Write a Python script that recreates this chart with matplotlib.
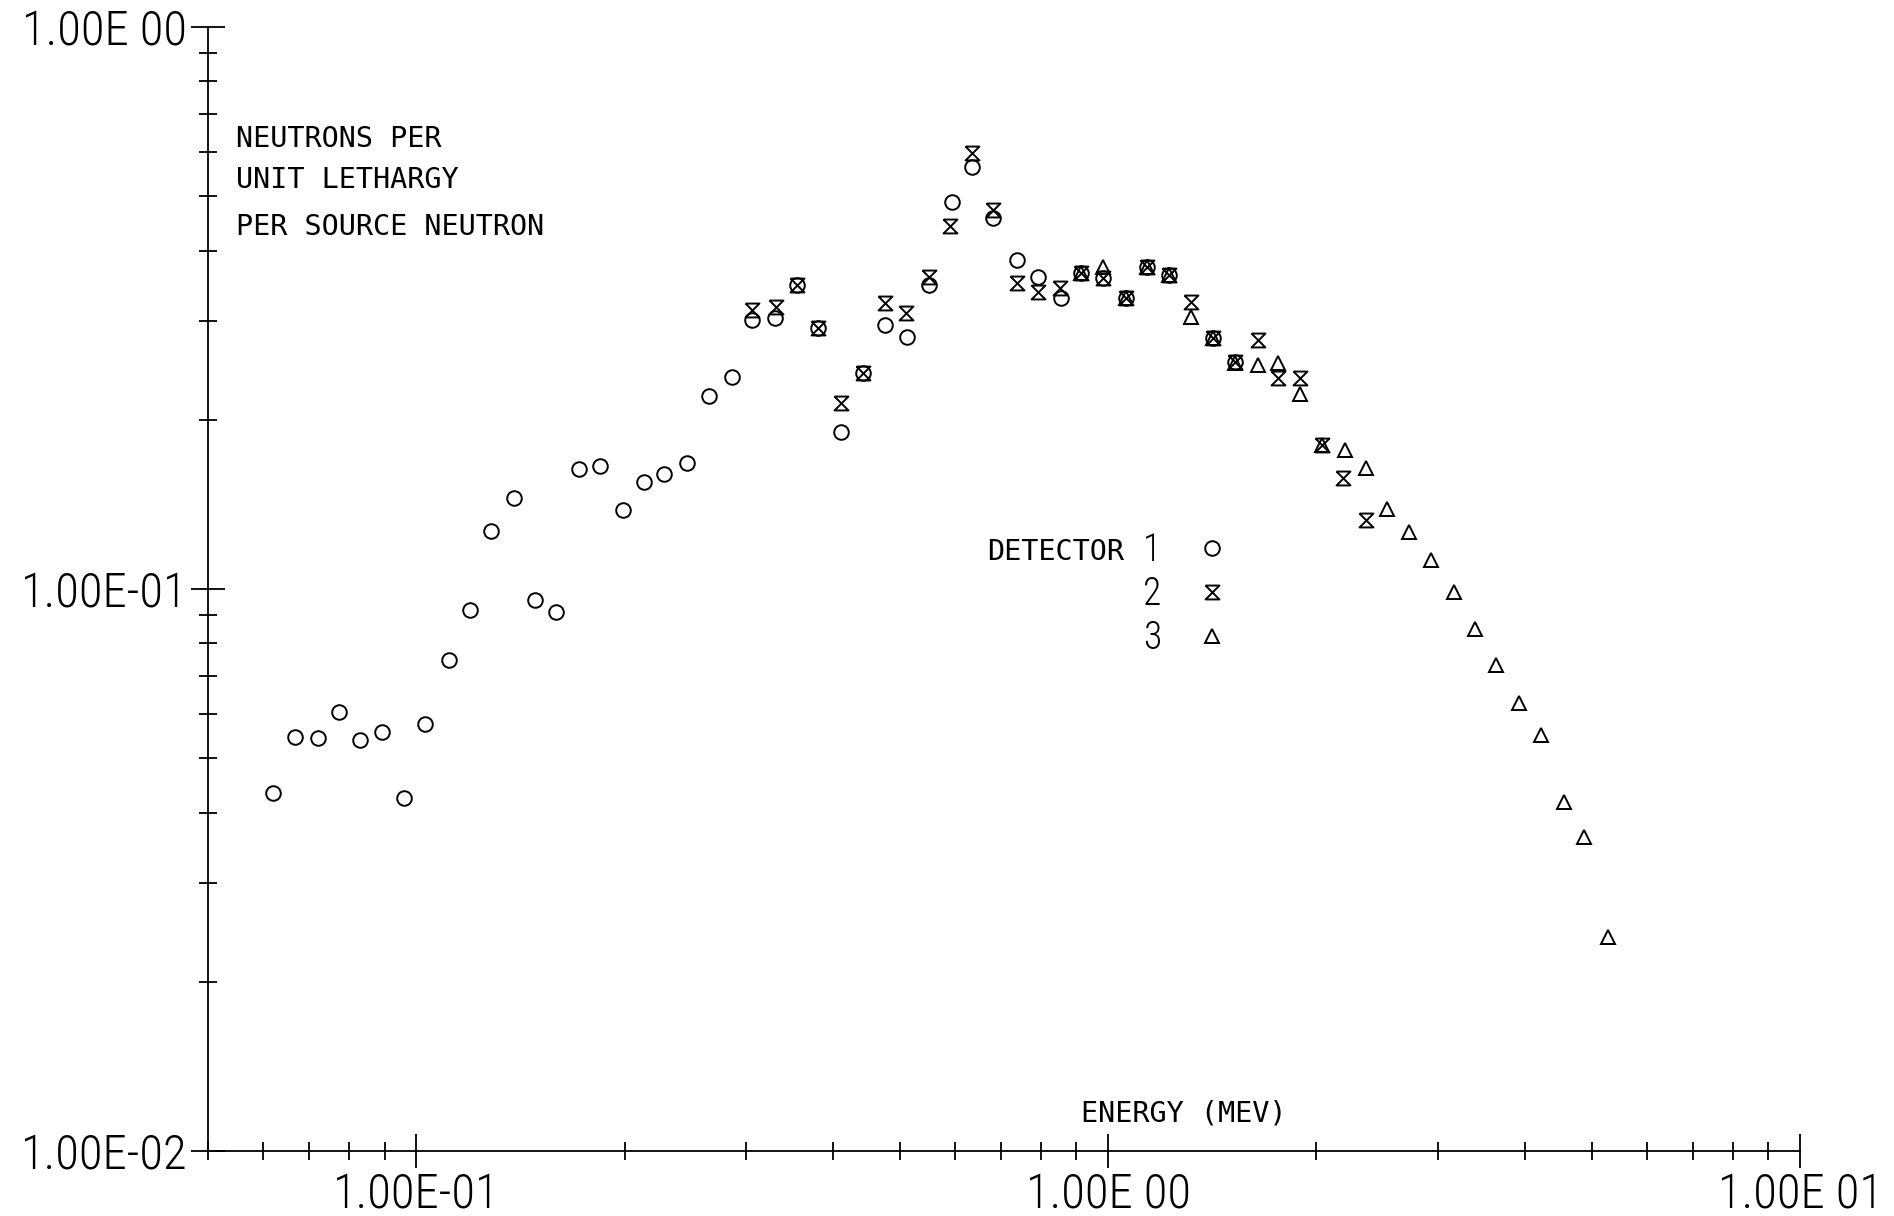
import numpy as np
import matplotlib
matplotlib.use('Agg')
import matplotlib.pyplot as plt
from matplotlib import font_manager
from matplotlib.path import Path
from matplotlib.ticker import LogLocator, NullFormatter, FixedLocator, FixedFormatter

# detector 1 (circles)
e1 = [0.0621, 0.0668, 0.0721, 0.0773, 0.0830, 0.0891, 0.0959, 0.1030, 0.1114, 0.1196,
      0.1281, 0.1384, 0.1486, 0.1593, 0.1718, 0.1842, 0.1989, 0.2135, 0.2282, 0.2459,
      0.2651, 0.2859, 0.3059, 0.3300, 0.3545, 0.3809, 0.4110, 0.4426, 0.4757, 0.5123,
      0.5512, 0.5938, 0.6347, 0.6822, 0.7374, 0.7925, 0.8545, 0.9134, 0.9835, 1.0607,
      1.1399, 1.2254, 1.4185, 1.5245]
f1 = [0.0433, 0.0546, 0.0542, 0.0605, 0.0539, 0.0557, 0.0425, 0.0574, 0.0747, 0.0918,
      0.1268, 0.1454, 0.0954, 0.0911, 0.1633, 0.1657, 0.1382, 0.1552, 0.1600, 0.1674,
      0.2205, 0.2386, 0.3011, 0.3032, 0.3474, 0.2910, 0.1905, 0.2426, 0.2950, 0.2811,
      0.3474, 0.4887, 0.5642, 0.4567, 0.3848, 0.3594, 0.3292, 0.3644, 0.3570, 0.3292,
      0.3746, 0.3620, 0.2793, 0.2537]

# detector 2 (hourglass)
e2 = [0.3059, 0.3311, 0.3545, 0.3809, 0.4110, 0.4426, 0.4757, 0.5102, 0.5512, 0.5905,
      0.6347, 0.6822, 0.7374, 0.7925, 0.8515, 0.9134, 0.9835, 1.0607, 1.1399, 1.2254,
      1.3196, 1.4185, 1.5245, 1.6453, 1.7608, 1.8957, 2.0406, 2.1858, 2.3568]
f2 = [0.3136, 0.3179, 0.3474, 0.2910, 0.2145, 0.2426, 0.3231, 0.3094, 0.3594, 0.4425,
      0.5960, 0.4725, 0.3498, 0.3381, 0.3428, 0.3644, 0.3570, 0.3292, 0.3746, 0.3620,
      0.3245, 0.2793, 0.2537, 0.2770, 0.2378, 0.2371, 0.1804, 0.1574, 0.1327]

# detector 3 (triangles)
e3 = [0.9134, 0.9835, 1.0607, 1.1399, 1.2254, 1.3196, 1.4185, 1.5245, 1.6453, 1.7608,
      1.8957, 2.0406, 2.1984, 2.3568, 2.5303, 2.7227, 2.9295, 3.1623, 3.3958, 3.6415,
      3.9264, 4.2206, 4.5552, 4.8730, 5.2698]
f3 = [0.3644, 0.3746, 0.3292, 0.3746, 0.3620, 0.3051, 0.2793, 0.2521, 0.2506, 0.2521,
      0.2223, 0.1804, 0.1768, 0.1640, 0.1386, 0.1265, 0.1126, 0.0989, 0.0848, 0.0732,
      0.0628, 0.0550, 0.0417, 0.0362, 0.0240]

xticks = [0.1, 1.0, 10.0]
xtick_labels = ['1.00E-01', '1.00E 00', '1.00E 01']
yticks = [0.01, 0.1, 1.0]
ytick_labels = ['1.00E-02', '1.00E-01', '1.00E 00']

# pick a narrow font for the plotter-style numbers if one is there
names = {f.name for f in font_manager.fontManager.ttflist}
num_font = 'DejaVu Sans'
for cand in ['Liberation Sans Narrow', 'DejaVu Sans Condensed', 'Roboto Condensed', 'DejaVu Sans']:
    if cand in names:
        num_font = cand
        break
mono = 'DejaVu Sans Mono'

hourglass = Path([(-1, 1), (1, 1), (-1, -1), (1, -1), (-1, 1)],
                 [Path.MOVETO, Path.LINETO, Path.LINETO, Path.LINETO, Path.LINETO])

fig = plt.figure(figsize=(18.94, 12.16), dpi=100)
ax = fig.add_axes([0.10982, 0.05345, 0.84055, 0.92434])
ax.set_xscale('log')
ax.set_yscale('log')

mk = dict(linestyle='none', color='black', markerfacecolor='none', clip_on=False)
ax.plot(e1, f1, marker='o', markersize=10.5, markeredgewidth=1.4, label='1', **mk)
ax.plot(e2, f2, marker=hourglass, markersize=10, markeredgewidth=1.4, label='2', **mk)
ax.plot(e3, f3, marker='^', markersize=10.5, markeredgewidth=1.4, label='3', **mk)

ax.set_xlim(0.05, 10)
ax.set_ylim(0.01, 1)

for s in ['top', 'right']:
    ax.spines[s].set_visible(False)
for s in ['left', 'bottom']:
    ax.spines[s].set_linewidth(1.3)

ax.xaxis.set_major_locator(FixedLocator(xticks))
ax.xaxis.set_major_formatter(FixedFormatter(xtick_labels))
ax.yaxis.set_major_locator(FixedLocator(yticks))
ax.yaxis.set_major_formatter(FixedFormatter(ytick_labels))
ax.xaxis.set_minor_locator(LogLocator(base=10, subs=np.arange(2, 10), numticks=20))
ax.yaxis.set_minor_locator(LogLocator(base=10, subs=np.arange(2, 10), numticks=20))
ax.xaxis.set_minor_formatter(NullFormatter())
ax.yaxis.set_minor_formatter(NullFormatter())

ax.tick_params(which='major', direction='inout', length=24, width=1.3, pad=3)
ax.tick_params(which='minor', direction='inout', length=13, width=1.3)
for lab in ax.get_xticklabels() + ax.get_yticklabels():
    lab.set_fontfamily(num_font)
    lab.set_fontsize(35)
    lab.set_fontweight('light')

ax.text(0.0173, 0.9004, 'NEUTRONS PER', transform=ax.transAxes, family=mono,
        fontsize=20.5, va='center', ha='left')
ax.text(0.0173, 0.8639, 'UNIT LETHARGY', transform=ax.transAxes, family=mono,
        fontsize=20.5, va='center', ha='left')
ax.text(0.0173, 0.8221, 'PER SOURCE NEUTRON', transform=ax.transAxes, family=mono,
        fontsize=20.5, va='center', ha='left')
ax.text(0.5484, 0.0338, 'ENERGY (MEV)', transform=ax.transAxes, family=mono,
        fontsize=20.5, va='center', ha='left')
ax.text(0.4893, 0.5329, 'DETECTOR', transform=ax.transAxes, family=mono,
        fontsize=20.5, va='center', ha='left')

leg = ax.legend(loc='upper left', bbox_to_anchor=(0.5873, 0.5510), frameon=False,
                markerfirst=False, handlelength=1.0, handletextpad=0.85,
                borderpad=0, borderaxespad=0, labelspacing=0.17,
                prop={'family': num_font, 'size': 27, 'weight': 'light'})

fig.savefig('out.png', dpi=100)
